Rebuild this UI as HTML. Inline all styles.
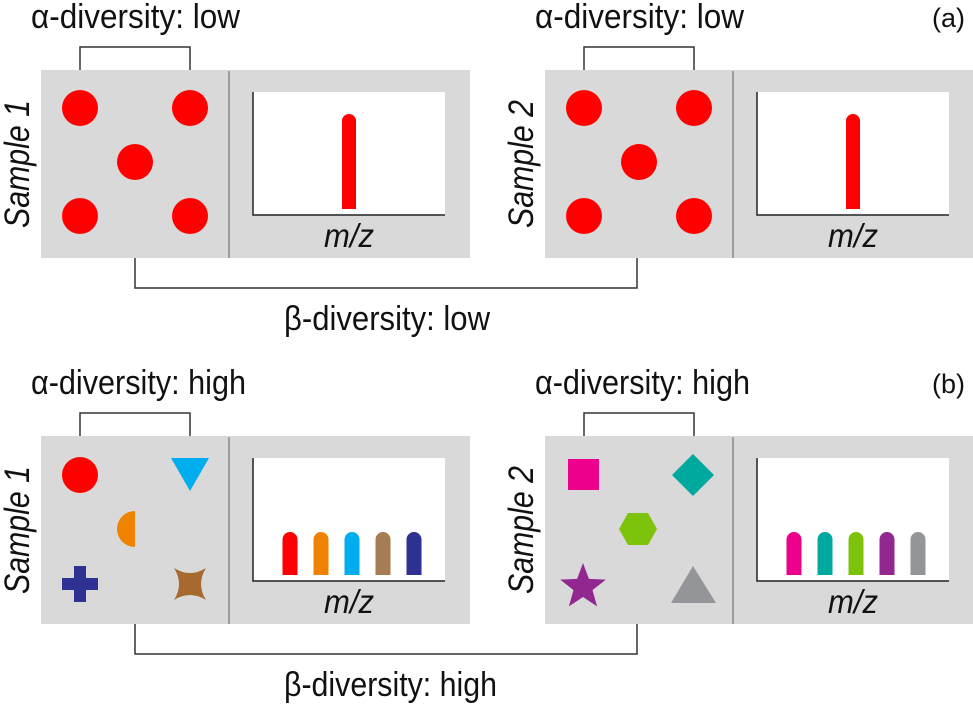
<!DOCTYPE html>
<html><head><meta charset="utf-8"><style>
html,body{margin:0;padding:0;background:#fff;}
svg{display:block;font-family:"Liberation Sans",sans-serif;}
</style></head><body>
<svg id="fig" width="973" height="704" viewBox="0 0 973 704">
<g id="root"></g>
</svg>
<script>
const peakColorsA1 = ['#ff0000'];
const peakColorsA2 = ['#ff0000'];
const peakColorsB1 = ['#ff0000','#ef8200','#00aeef','#a67c52','#2e3192'];
const peakColorsB2 = ['#ec008c','#00a99d','#7dc20b','#92278f','#939598'];
const peakHeightsA = [95];
const peakHeightsB = [43,43,43,43,43];
const panelLabels = ['(a)','(b)'];
const alphaLabels = ['α-diversity: low','α-diversity: high'];
const betaLabels = ['β-diversity: low','β-diversity: high'];

const NS='http://www.w3.org/2000/svg';
const root=document.getElementById('root');
function mk(tag,attrs,parent){const e=document.createElementNS(NS,tag);for(const k in attrs)e.setAttribute(k,attrs[k]);(parent||root).appendChild(e);return e;}
function txt(s,attrs,parent){const e=mk('text',attrs,parent);e.textContent=s;return e;}

function panel(oy,sampleX,sampleName,colors,heights,shapesFn,idx){
  const g=mk('g',{});
  
  
  const x0=sampleX;
  const bg=mk('rect',{x:x0,y:oy+70,width:429,height:188,fill:'#d9d9d9'},g);
  
  
  mk('line',{x1:x0+188,y1:oy+71,x2:x0+188,y2:oy+258,stroke:'#8a8a8a','stroke-width':1.5},g);
  const br=mk('path',{d:`M${x0+39},${oy+70}V${oy+47}H${x0+149}V${oy+70}`,fill:'none',stroke:'#333','stroke-width':1.5},g);
  
  
  const lab=txt(sampleName,{x:0,y:0,transform:`translate(${x0-12},${oy+164}) rotate(-90)`,'text-anchor':'middle','font-size':35,'font-style':'italic',textLength:128,lengthAdjust:'spacingAndGlyphs',fill:'#111'},g);
  
  
  const px=x0+212, py=oy+92, pw=192, ph=123;
  const pa=mk('rect',{x:px,y:py,width:pw,height:ph,fill:'#fff'},g);
  
  
  mk('path',{d:`M${px},${py}V${py+ph}H${px+pw}`,fill:'none',stroke:'#222','stroke-width':1.5},g);
  const base=py+ph-6;
  const n=colors.length;
  const step=31;
  const cx0=n===1?px+96:px+37;
  for(let i=0;i<n;i++){
    const cx=cx0+i*step, h=heights[i], w=n===1?14:15;
    const b=mk('path',{d:`M${cx-w/2},${base}V${base-h+w/2}A${w/2},${w/2} 0 0 1 ${cx+w/2},${base-h+w/2}V${base}Z`,fill:colors[i]},g);
    
    
  }
  const mz=txt('m/z',{x:px+96,y:oy+247,'text-anchor':'middle','font-size':33,'font-style':'italic',textLength:50,lengthAdjust:'spacingAndGlyphs',fill:'#111'},g);
  
  
  shapesFn(g,x0,oy);
}
function circle(g,cx,cy,c){return mk('circle',{cx,cy,r:18,fill:c},g);}
function lowShapes(g,x0,oy){
  [[39,38],[149,38],[94,92],[39,146],[149,146]].forEach(p=>{const c=circle(g,x0+p[0],oy+70+p[1],'#ff0000');});
}
function highShapes1(g,x0,oy){
  const y=oy;
  circle(g,x0+39,y+109,'#ff0000');
  mk('polygon',{points:`${x0+130},${y+92} ${x0+168},${y+92} ${x0+149},${y+125}`,fill:'#00aeef'},g);
  mk('path',{d:`M${x0+94},${y+145}A18,18 0 0 1 ${x0+94},${y+181}Z`,fill:'#ef8200',transform:`translate(${2*(x0+94)},0) scale(-1,1)`},g);
  const c=x0+39,m=y+218;
  mk('path',{d:`M${c-6},${m-18}h12v12h12v12h-12v12h-12v-12h-12v-12h12z`,fill:'#2e3192'},g);
  const sx=x0+149;
  mk('path',{d:`M${sx-16},${m-16}Q${sx},${m-6} ${sx+16},${m-16}Q${sx+6},${m} ${sx+16},${m+16}Q${sx},${m+6} ${sx-16},${m+16}Q${sx-6},${m} ${sx-16},${m-16}Z`,fill:'#a66a2e'},g);
}
function highShapes2(g,x0,oy){
  const y=oy;
  mk('rect',{x:x0+23,y:y+93,width:31,height:31,fill:'#ec008c'},g);
  const dx=x0+148,dy=y+109;
  mk('polygon',{points:`${dx},${dy-21} ${dx+21},${dy} ${dx},${dy+21} ${dx-21},${dy}`,fill:'#00a99d'},g);
  const hx=x0+93,hy=y+163;
  mk('polygon',{points:`${hx-19},${hy} ${hx-10},${hy-16} ${hx+10},${hy-16} ${hx+19},${hy} ${hx+10},${hy+16} ${hx-10},${hy+16}`,fill:'#7dc20b'},g);
  const sx=x0+38,sy=y+221;let pts=[];
  for(let i=0;i<10;i++){const r=i%2?10:24,a=-Math.PI/2+i*Math.PI/5;pts.push((sx+r*Math.cos(a)).toFixed(1)+','+(sy+r*Math.sin(a)).toFixed(1));}
  mk('polygon',{points:pts.join(' '),fill:'#92278f'},g);
  mk('polygon',{points:`${x0+148},${y+200} ${x0+171},${y+237} ${x0+126},${y+237}`,fill:'#939598'},g);
}
function row(oy,i,c1,c2,h,s1,s2){
  panel(oy,41,'Sample 1',c1,h,s1,(i?'b':'a')+'1');
  panel(oy,545,'Sample 2',c2,h,s2,(i?'b':'a')+'2');
  const a1=txt(alphaLabels[i],{x:31,y:oy+28,'font-size':34,textLength:i?215:209,lengthAdjust:'spacingAndGlyphs',fill:'#111'});
  
  
  const a2=txt(alphaLabels[i],{x:535,y:oy+28,'font-size':34,textLength:i?215:209,lengthAdjust:'spacingAndGlyphs',fill:'#111'});
  
  
  const pl=txt(panelLabels[i],{x:965,y:oy+27,'font-size':27,'text-anchor':'end',fill:'#111'});
  
  
  const bb=mk('path',{d:`M135,${oy+258}V${oy+288}H637V${oy+258}`,fill:'none',stroke:'#333','stroke-width':1.5});
  
  
  const b=txt(betaLabels[i],{x:284,y:oy+330,'font-size':34,textLength:i?213:206,lengthAdjust:'spacingAndGlyphs',fill:'#111'});
  
  
}
row(0,0,peakColorsA1,peakColorsA2,peakHeightsA,lowShapes,lowShapes);
row(366,1,peakColorsB1,peakColorsB2,peakHeightsB,highShapes1,highShapes2);
</script>
</body></html>
